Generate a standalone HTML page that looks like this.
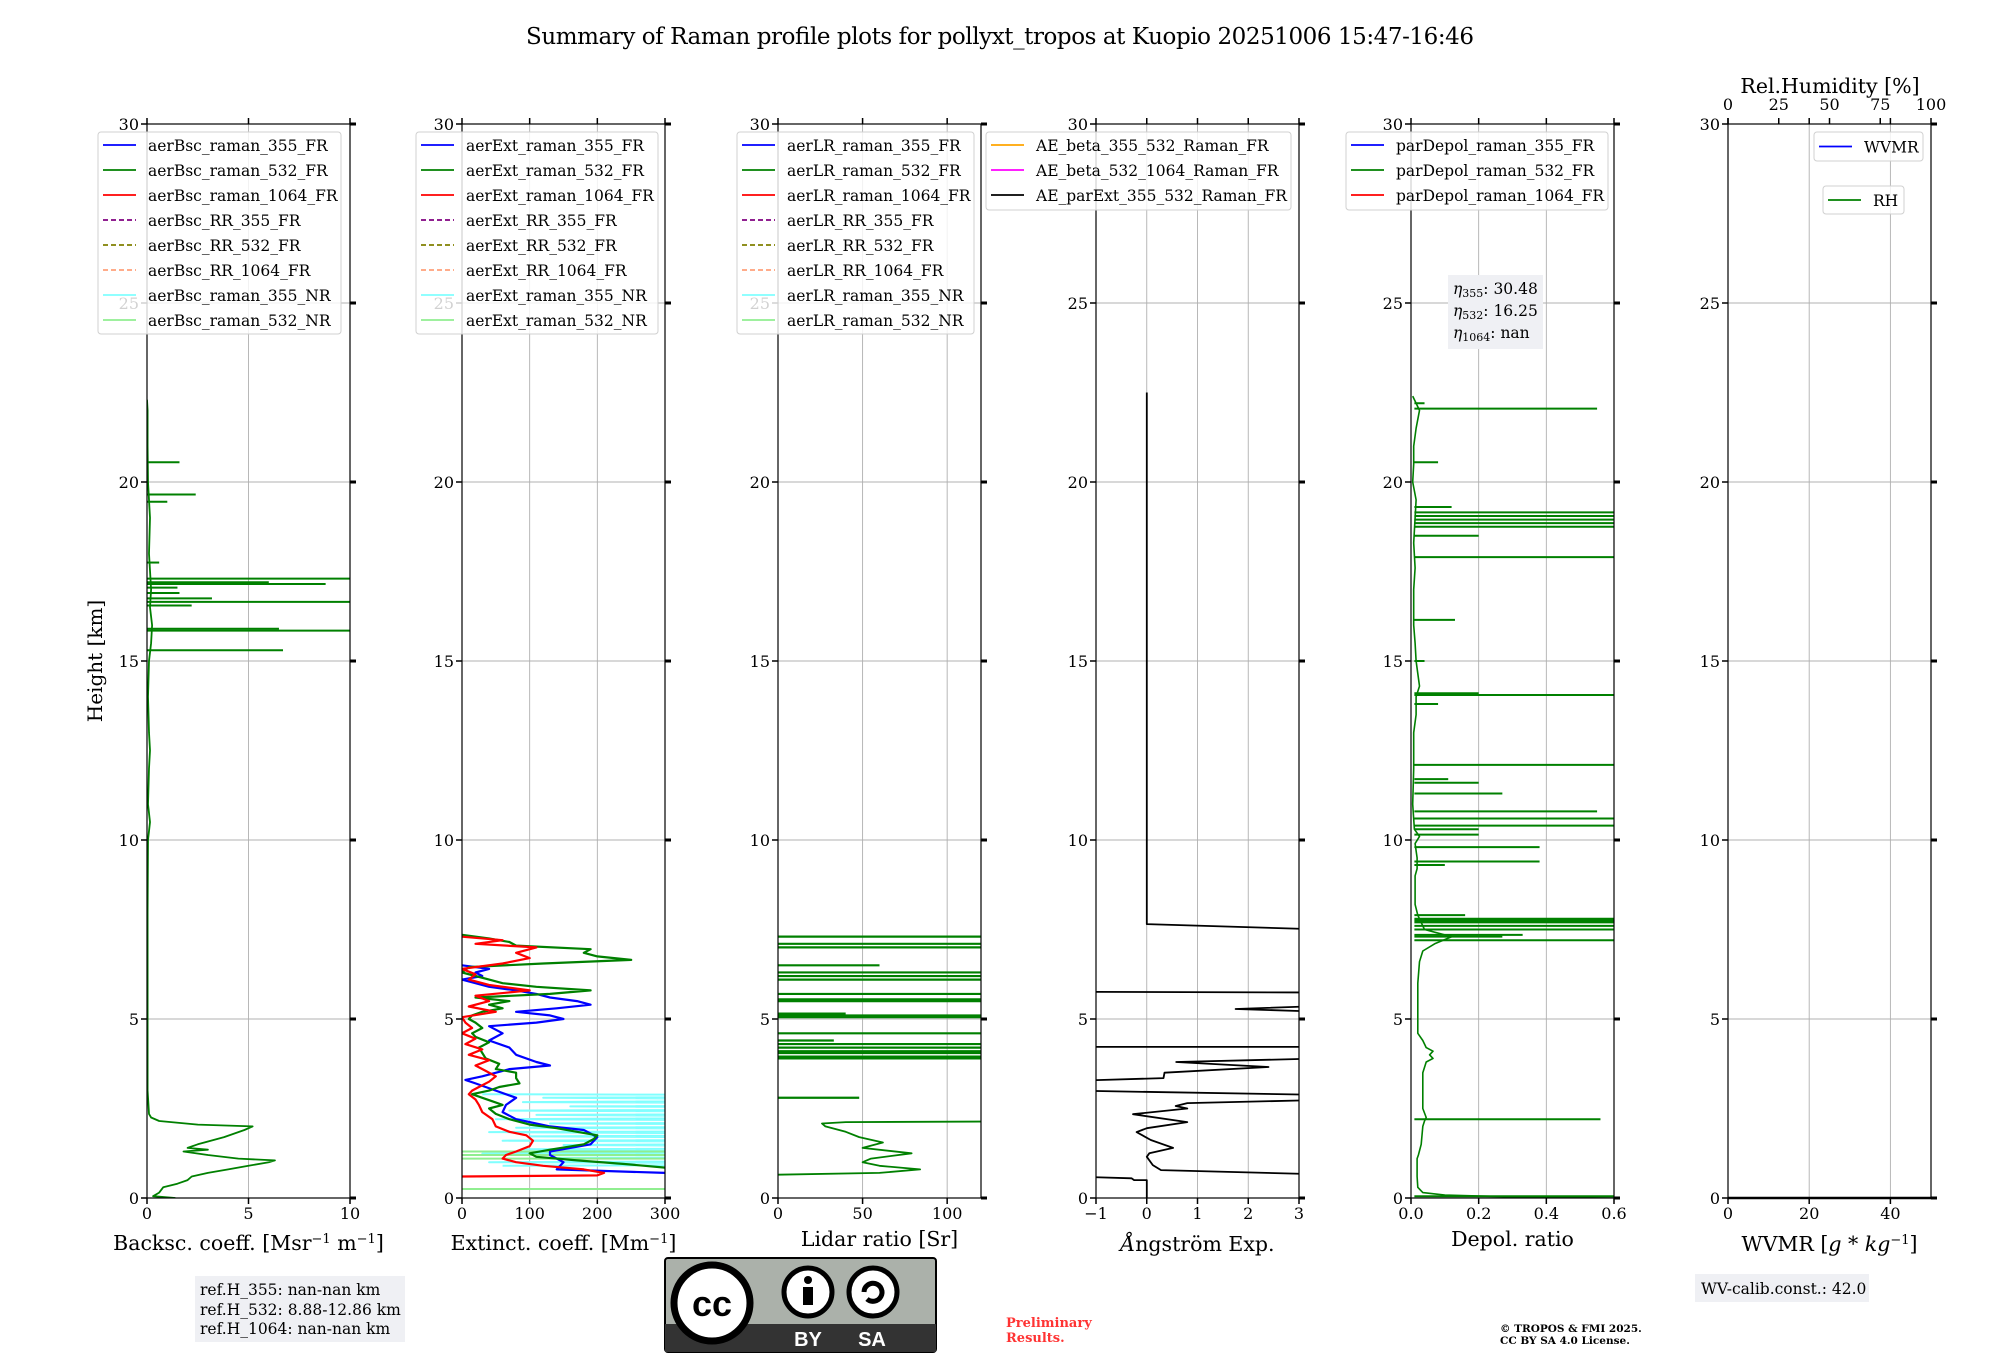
<!DOCTYPE html>
<html><head><meta charset="utf-8"><style>
html,body{margin:0;padding:0;background:#fff;}
svg{display:block;font-family:"DejaVu Serif","Liberation Serif",serif;}
</style></head><body>
<svg id="fig" width="2000" height="1360" viewBox="0 0 2000 1360">
<text x="1000" y="44" text-anchor="middle" font-size="23" textLength="948">Summary of Raman profile plots for pollyxt_tropos at Kuopio 20251006 15:47-16:46</text>
<g id="panels"></g>
<text transform="translate(102,661) rotate(-90)" text-anchor="middle" font-size="20">Height [km]</text>
<g>
<rect x="195" y="1276" width="210" height="66" fill="#eff0f4"/>
<text x="200" y="1295" font-size="15.5">ref.H_355: nan-nan km</text>
<text x="200" y="1315" font-size="15.5">ref.H_532: 8.88-12.86 km</text>
<text x="200" y="1334" font-size="15.5">ref.H_1064: nan-nan km</text>
</g>
<g>
<rect x="665" y="1258" width="271" height="94" rx="3" fill="#abb1aa" stroke="#000" stroke-width="2"/>
<rect x="665" y="1324" width="271" height="28" fill="#333"/>
<circle cx="712" cy="1303" r="38" fill="#fff" stroke="#000" stroke-width="7"/>
<text x="712" y="1316" text-anchor="middle" font-family="Liberation Sans,sans-serif" font-weight="bold" font-size="36">cc</text>
<circle cx="808" cy="1292" r="24" fill="#fff" stroke="#000" stroke-width="5"/>
<circle cx="808" cy="1280" r="4" fill="#000"/>
<rect x="803" y="1287" width="10" height="18" fill="#000"/>
<circle cx="873" cy="1292" r="24" fill="#fff" stroke="#000" stroke-width="5"/>
<path d="M864 1292 a9 9 0 1 1 3 7" fill="none" stroke="#000" stroke-width="5"/>
<text x="808" y="1346" text-anchor="middle" fill="#fff" font-family="Liberation Sans,sans-serif" font-weight="bold" font-size="20">BY</text>
<text x="872" y="1346" text-anchor="middle" fill="#fff" font-family="Liberation Sans,sans-serif" font-weight="bold" font-size="20">SA</text>
</g>
<g fill="#ff3333" font-weight="bold" font-size="13">
<text x="1006" y="1327">Preliminary</text>
<text x="1006" y="1342">Results.</text>
</g>
<g font-weight="bold" font-size="10.5">
<text x="1500" y="1332">© TROPOS &amp; FMI 2025.</text>
<text x="1500" y="1344">CC BY SA 4.0 License.</text>
</g>
<g>
<rect x="1695" y="1274" width="174" height="28" fill="#eff0f4"/>
<text x="1701" y="1294" font-size="15.5">WV-calib.const.: 42.0</text>
</g>
</svg>
<script>
// ---------- data ----------
const bscH = [0,0.05,0.15,0.3,0.4,0.5,0.6,0.7,0.8,0.9,1.0,1.05,1.1,1.2,1.3,1.35,1.4,1.5,1.7,1.9,2.0,2.05,2.15,2.25,2.35,3,4,5,6,8,10,10.5,11,12,12.5,13,14,15,15.5,16,16.5,17,18,19,20,21,22,22.3];
const bsc532 = [1.4,0.3,0.6,0.8,1.5,2.0,2.2,3.0,4.0,5.0,6.0,6.3,4.5,3.0,1.8,3.0,2.0,2.5,3.8,4.8,5.2,2.5,0.6,0.2,0.1,0.03,0.03,0.03,0.03,0.03,0.05,0.15,0.05,0.1,0.15,0.1,0.05,0.1,0.2,0.25,0.15,0.2,0.1,0.15,0.05,0.03,0.03,0.0];
const bscSpikeH = [15.3,15.85,15.9,16.55,16.65,16.75,16.9,17.05,17.15,17.2,17.3,17.75,19.45,19.65,20.55];
const bscSpikeV = [6.7,10,6.5,2.2,10,3.2,1.6,1.5,8.8,6,10,0.6,1,2.4,1.6];

const ext355H = [0.65,0.7,0.8,1.0,1.2,1.3,1.5,1.7,1.9,2.0,2.2,2.4,2.6,2.8,3.0,3.2,3.3,3.4,3.6,3.7,3.8,4.0,4.2,4.4,4.6,4.8,4.9,5.0,5.1,5.2,5.3,5.4,5.5,5.6,5.7,5.8,5.9,6.0,6.1,6.2,6.3,6.4,6.5];
const ext355 = [400,300,140,150,130,130,190,200,180,130,80,60,65,80,50,20,5,30,70,130,110,80,70,40,60,40,110,150,130,80,140,190,170,130,110,80,40,20,0,30,20,40,0];
const ext532H = [0.75,0.85,0.95,1.05,1.15,1.25,1.35,1.5,1.65,1.75,1.85,1.95,2.05,2.2,2.35,2.5,2.6,2.7,2.8,2.9,3.0,3.1,3.2,3.35,3.5,3.6,3.75,3.9,4.05,4.2,4.35,4.5,4.6,4.75,4.9,5.0,5.1,5.2,5.3,5.4,5.5,5.6,5.7,5.8,5.9,6.0,6.1,6.2,6.3,6.45,6.55,6.65,6.75,6.85,6.95,7.05,7.15,7.25,7.35];
const ext532 = [600,300,240,170,110,100,130,180,195,200,170,140,100,70,50,40,60,45,30,15,40,55,85,80,80,50,55,35,30,25,40,20,15,30,20,10,15,30,60,40,70,20,130,190,110,60,40,20,0,10,120,250,200,180,190,80,70,40,0];
const ext1064H = [0.6,0.63,0.7,0.8,0.9,1.0,1.1,1.2,1.3,1.45,1.6,1.75,1.85,2.0,2.2,2.4,2.6,2.75,2.9,3.0,3.1,3.25,3.4,3.55,3.7,3.85,4.0,4.15,4.3,4.45,4.6,4.75,4.9,5.05,5.2,5.35,5.5,5.65,5.8,5.95,6.1,6.25,6.4,6.55,6.7,6.85,7.0,7.1,7.2,7.3];
const ext1064 = [0,200,210,180,120,80,60,65,80,100,105,95,70,50,45,30,25,20,10,15,25,40,50,35,20,40,10,30,5,20,0,15,5,0,50,10,40,20,100,40,10,20,0,60,100,80,110,20,60,0];
const extNR355H = [0.9,0.95,1.0,1.06,1.12,1.18,1.24,1.3,1.36,1.42,1.48,1.54,1.6,1.66,1.72,1.78,1.84,1.9,1.96,2.02,2.08,2.14,2.2,2.26,2.32,2.38,2.44,2.5,2.56,2.62,2.68,2.74,2.8,2.86,2.9];
const extNR355 = [60,900,40,800,120,900,30,700,90,900,150,800,60,900,100,700,40,900,80,800,130,900,50,700,110,900,70,800,160,900,90,700,120,900,30];
const extNR532H = [0.25,1.1,1.2,1.3];
const extNR532 = [300,300,300,300];

const lrH = [0.65,0.7,0.8,0.9,1.0,1.1,1.25,1.4,1.55,1.7,1.85,2.0,2.08,2.12,2.15];
const lr532 = [0,60,84,60,50,55,79,50,62,48,40,28,26,40,200];
const lrSpikeH = [2.8,3.9,3.95,4.05,4.1,4.2,4.3,4.4,4.6,5.05,5.1,5.15,5.5,5.55,5.7,6.1,6.2,6.3,6.5,7.0,7.1,7.3];
const lrSpikeV = [48,200,200,200,200,200,200,33,200,200,200,40,200,200,200,200,200,200,60,200,200,200];

const aeH = [0,0.5,0.5,0.55,0.6,null,0.66,0.78,0.92,1.15,1.25,1.4,1.62,1.84,1.95,2.12,2.34,2.5,2.57,2.65,2.74,null,2.88,3.0,null,3.27,3.35,3.5,3.66,3.8,3.9,null,4.22,4.22,null,5.2,5.28,5.37,null,5.76,5.74,null,7.5,7.65,22.5];
const aeV = [0,0,-0.25,-0.3,-1.5,null,3.5,0.28,0.12,0,0.05,0.52,0.08,-0.2,0,0.8,-0.27,0.8,0.57,0.8,3.5,null,3.5,-1.5,null,-1.5,0.33,0.35,2.4,0.58,3.5,null,-1.5,3.5,null,3.5,1.75,3.5,null,-1.5,3.5,null,3.5,0,0];

const depH = [0,0.03,0.08,0.15,0.3,0.6,0.9,1.1,1.2,1.5,2.0,2.15,2.25,2.5,3.0,3.5,3.8,3.9,4.0,4.1,4.2,4.4,4.6,5.0,6.0,6.6,6.9,7.1,7.3,7.5,7.9,8.2,9.0,9.2,9.5,9.9,10.1,10.3,11,12,13,13.5,14,14.3,15,15.5,16,17,17.6,18.3,19.5,20,20.5,21,21.5,22,22.4];
const dep532 = [0.6,0.3,0.1,0.035,0.02,0.018,0.018,0.018,0.022,0.03,0.035,0.04,0.045,0.035,0.035,0.035,0.045,0.065,0.055,0.065,0.045,0.035,0.02,0.02,0.02,0.025,0.035,0.07,0.12,0.04,0.02,0.012,0.012,0.018,0.018,0.012,0.025,0.01,0.005,0.008,0.008,0.015,0.015,0.025,0.015,0.012,0.008,0.008,0.012,0.008,0.015,0.005,0.008,0.008,0.015,0.025,0.005];
const depSpikeH = [0.05,2.2,7.2,7.3,7.35,7.5,7.6,7.7,7.75,7.8,7.9,9.3,9.4,9.8,10.15,10.3,10.4,10.6,10.8,11.3,11.6,11.7,12.1,13.8,14.05,14.1,15.0,16.15,17.9,18.5,18.75,18.85,18.95,19.05,19.15,19.3,20.55,22.05,22.2];
const depSpikeV = [0.6,0.56,0.6,0.27,0.33,0.6,0.6,0.6,0.6,0.6,0.16,0.1,0.38,0.38,0.2,0.2,0.6,0.6,0.55,0.27,0.2,0.11,0.6,0.08,0.6,0.2,0.04,0.13,0.6,0.2,0.6,0.6,0.6,0.6,0.6,0.12,0.08,0.55,0.04];

const heightTicks = [0,5,10,15,20,25,30];

// ---------- layout ----------
const NS = "http://www.w3.org/2000/svg";
const TOP = 124, BOT = 1198, PW = 203;
const yS = h => BOT - h / 30 * (BOT - TOP);
function mk(tag, attrs, parent) {
  const e = document.createElementNS(NS, tag);
  for (const k in attrs) e.setAttribute(k, attrs[k]);
  if (parent) parent.appendChild(e);
  return e;
}
const root = document.getElementById('panels');

const panels = [
  {id:'backscatter', left:147, min:0, max:10, ticks:[0,5,10], labels:['0','5','10'], xlabel:'Backsc. coeff. [Msr<tspan dy="-7" font-size="13">−1</tspan><tspan dy="7"> m</tspan><tspan dy="-7" font-size="13">−1</tspan><tspan dy="7">]</tspan>', xlabelY:1250,
   legend:{x:98,y:132,w:243,h:202,items:[['aerBsc_raman_355_FR','#0000ff',''],['aerBsc_raman_532_FR','#008000',''],['aerBsc_raman_1064_FR','#ff0000',''],['aerBsc_RR_355_FR','#800080','5,3'],['aerBsc_RR_532_FR','#808000','5,3'],['aerBsc_RR_1064_FR','#ffa07a','5,3'],['aerBsc_raman_355_NR','#80ffff',''],['aerBsc_raman_532_NR','#90ee90','']]}},
  {id:'extinction', left:462, min:0, max:300, ticks:[0,100,200,300], labels:['0','100','200','300'], xlabel:'Extinct. coeff. [Mm<tspan dy="-7" font-size="13">−1</tspan><tspan dy="7">]</tspan>', xlabelY:1250,
   legend:{x:416,y:132,w:242,h:202,items:[['aerExt_raman_355_FR','#0000ff',''],['aerExt_raman_532_FR','#008000',''],['aerExt_raman_1064_FR','#ff0000',''],['aerExt_RR_355_FR','#800080','5,3'],['aerExt_RR_532_FR','#808000','5,3'],['aerExt_RR_1064_FR','#ffa07a','5,3'],['aerExt_raman_355_NR','#80ffff',''],['aerExt_raman_532_NR','#90ee90','']]}},
  {id:'lidar-ratio', left:778, min:0, max:120, ticks:[0,50,100], labels:['0','50','100'], xlabel:'Lidar ratio [Sr]', xlabelY:1246,
   legend:{x:737,y:132,w:237,h:202,items:[['aerLR_raman_355_FR','#0000ff',''],['aerLR_raman_532_FR','#008000',''],['aerLR_raman_1064_FR','#ff0000',''],['aerLR_RR_355_FR','#800080','5,3'],['aerLR_RR_532_FR','#808000','5,3'],['aerLR_RR_1064_FR','#ffa07a','5,3'],['aerLR_raman_355_NR','#80ffff',''],['aerLR_raman_532_NR','#90ee90','']]}},
  {id:'angstrom', left:1096, min:-1, max:3, ticks:[-1,0,1,2,3], labels:['−1','0','1','2','3'], xlabel:'<tspan font-style="italic">Å</tspan>ngström Exp.', xlabelY:1251,
   legend:{x:986,y:132,w:305,h:78,items:[['AE_beta_355_532_Raman_FR','#ffa500',''],['AE_beta_532_1064_Raman_FR','#ff00ff',''],['AE_parExt_355_532_Raman_FR','#000000','']]}},
  {id:'depol', left:1411, min:0, max:0.6, ticks:[0,0.2,0.4,0.6], labels:['0.0','0.2','0.4','0.6'], xlabel:'Depol. ratio', xlabelY:1246,
   legend:{x:1346,y:132,w:262,h:78,items:[['parDepol_raman_355_FR','#0000ff',''],['parDepol_raman_532_FR','#008000',''],['parDepol_raman_1064_FR','#ff0000','']]}},
  {id:'wvmr', left:1728, min:0, max:50, ticks:[0,20,40], labels:['0','20','40'], xlabel:'WVMR [<tspan font-style="italic">g</tspan> * <tspan font-style="italic">kg</tspan><tspan dy="-7" font-size="13">−1</tspan><tspan dy="7">]</tspan>', xlabelY:1251, legend:null}
];

panels.forEach(p => {
  const xS = v => p.left + (v - p.min) / (p.max - p.min) * PW;
  p.xS = xS;
  const g = mk('g', {}, root);
  
  
  p.g = g;
  const cp = mk('clipPath', {id:'clip-' + p.id}, g);
  mk('rect', {x:p.left, y:TOP, width:PW, height:BOT - TOP}, cp);
  const grid = mk('g', {stroke:'#b0b0b0','stroke-width':0.9}, g);
  
  
  heightTicks.forEach(h => mk('line', {x1:p.left, x2:p.left + PW, y1:yS(h), y2:yS(h)}, grid));
  p.ticks.forEach(t => mk('line', {x1:xS(t), x2:xS(t), y1:TOP, y2:BOT}, grid));
  p.data = mk('g', {'clip-path':'url(#clip-' + p.id + ')', fill:'none','stroke-linejoin':'round'}, g);
  
  
});

function addPanelFrame(p) {
  const g = p.g, xS = p.xS;
  mk('rect', {x:p.left, y:TOP, width:PW, height:BOT - TOP, fill:'none', stroke:'#000','stroke-width':1.2}, g);
  const ax = mk('g', {stroke:'#000','stroke-width':1.5}, g);
  
  
  heightTicks.forEach(h => {
    mk('line', {x1:p.left - 6, x2:p.left, y1:yS(h), y2:yS(h)}, ax);
    mk('line', {x1:p.left + PW, x2:p.left + PW + 6, y1:yS(h), y2:yS(h), 'stroke-width':3}, ax);
  });
  p.ticks.forEach(t => {
    mk('line', {x1:xS(t), x2:xS(t), y1:BOT, y2:BOT + 6}, ax);
    mk('line', {x1:xS(t), x2:xS(t), y1:TOP - 6, y2:TOP}, ax);
  });
  const yl = mk('g', {'font-size':16,'text-anchor':'end'}, g);
  
  
  heightTicks.forEach(h => {
    const t = mk('text', {x:p.left - 8, y:yS(h) + 6}, yl);
    t.textContent = String(h);
  });
  const xl = mk('g', {'font-size':16,'text-anchor':'middle'}, g);
  
  
  p.ticks.forEach((t, i) => {
    const e = mk('text', {x:xS(t), y:BOT + 21}, xl);
    e.textContent = p.labels[i];
  });
  const lab = mk('text', {x:p.left + PW / 2, y:p.xlabelY, 'font-size':20.5,'text-anchor':'middle'}, g);
  
  
  lab.innerHTML = p.xlabel;
  if (p.legend) {
    const L = p.legend;
    const lg = mk('g', {}, g);
    
    
    mk('rect', {x:L.x, y:L.y, width:L.w, height:L.h, rx:3, fill:'rgba(255,255,255,0.82)', stroke:'#d0d0d0'}, lg);
    L.items.forEach((it, i) => {
      const yy = 145 + i * 25;
      const ent = mk('g', {}, lg);
      
      
      const ln = mk('line', {x1:L.x + 5, x2:L.x + 38, y1:yy, y2:yy, stroke:it[1], 'stroke-width':1.8}, ent);
      if (it[2]) ln.setAttribute('stroke-dasharray', it[2]);
      const tx = mk('text', {x:L.x + 50, y:yy + 6, 'font-size':15.5}, ent);
      tx.textContent = it[0];
    });
  }
}

function line(p, H, V, color, w, name) {
  let d = '', pen = false;
  for (let i = 0; i < H.length; i++) {
    if (H[i] === null || V[i] === null) { pen = false; continue; }
    d += (pen ? 'L' : 'M') + p.xS(V[i]).toFixed(1) + ' ' + yS(H[i]).toFixed(1);
    pen = true;
  }
  const e = mk('path', {d:d, stroke:color, 'stroke-width':w}, p.data);
  
  
}
function spikes(p, H, V, base, color, w, name) {
  const g = mk('g', {stroke:color, 'stroke-width':w}, p.data);
  
  
  H.forEach((h, i) => mk('line', {x1:p.xS(base), x2:p.xS(V[i]), y1:yS(h), y2:yS(h)}, g));
}

const [pB, pE, pL, pA, pD, pW] = panels;
line(pB, bscH, bsc532, '#008000', 1.8, 'bsc-532-fr-line');
spikes(pB, bscSpikeH, bscSpikeV, 0, '#008000', 2, 'bsc-532-fr-spikes');

line(pE, extNR355H, extNR355, '#80ffff', 2, 'ext-355-nr-line');
spikes(pE, extNR532H, extNR532, 0, '#90ee90', 2, 'ext-532-nr-spikes');
line(pE, ext355H, ext355, '#0000ff', 2.2, 'ext-355-fr-line');
line(pE, ext532H, ext532, '#008000', 2.2, 'ext-532-fr-line');
line(pE, ext1064H, ext1064, '#ff0000', 2.2, 'ext-1064-fr-line');

line(pL, lrH, lr532, '#008000', 1.8, 'lr-532-fr-line');
spikes(pL, lrSpikeH, lrSpikeV, 0, '#008000', 2.2, 'lr-532-fr-spikes');

line(pA, aeH, aeV, '#000000', 1.8, 'ae-parext-355-532-line');

line(pD, depH, dep532, '#008000', 1.6, 'depol-532-fr-line');
spikes(pD, depSpikeH, depSpikeV, 0.01, '#008000', 2, 'depol-532-fr-spikes');

panels.forEach(addPanelFrame);

const eta = mk('g', {}, pD.g);


mk('rect', {x:1448, y:275, width:95, height:74, fill:'#eff0f4'}, eta);
[['355','30.48',294],['532','16.25',316],['1064','nan',338]].forEach(r => {
  const t = mk('text', {x:1453, y:r[2], 'font-size':15.5}, eta);
  t.innerHTML = '<tspan font-style="italic">η</tspan><tspan font-size="11" dy="3">' + r[0] + '</tspan><tspan dy="-3">: ' + r[1] + '</tspan>';
});

const rhVals = [0,25,50,75,100];
const rh = mk('g', {}, pW.g);


rhVals.forEach(v => {
  const x = 1728 + v / 100 * PW;
  mk('line', {x1:x, x2:x, y1:TOP - 6, y2:TOP, stroke:'#000', 'stroke-width':1.5}, rh);
  const t = mk('text', {x:x, y:110, 'font-size':16, 'text-anchor':'middle'}, rh);
  t.textContent = String(v);
});
const rht = mk('text', {x:1830, y:93, 'font-size':20.5, 'text-anchor':'middle'}, rh);


rht.textContent = 'Rel.Humidity [%]';
[['WVMR','#0000ff',1814,132,109,29,'wvmr-legend'],['RH','#008000',1823,186,81,28,'rh-legend']].forEach(L => {
  const lg = mk('g', {}, pW.g);
  
  
  mk('rect', {x:L[2], y:L[3], width:L[4], height:L[5], rx:3, fill:'rgba(255,255,255,0.82)', stroke:'#d0d0d0'}, lg);
  const yy = L[3] + L[5] / 2;
  mk('line', {x1:L[2] + 5, x2:L[2] + 38, y1:yy, y2:yy, stroke:L[1], 'stroke-width':1.8}, lg);
  const t = mk('text', {x:L[2] + 50, y:yy + 6, 'font-size':15.5}, lg);
  t.textContent = L[0];
});
mk('line', {x1:1728, x2:1931, y1:BOT, y2:BOT, stroke:'#000', 'stroke-width':2.5}, pW.g);
</script>
</body></html>
